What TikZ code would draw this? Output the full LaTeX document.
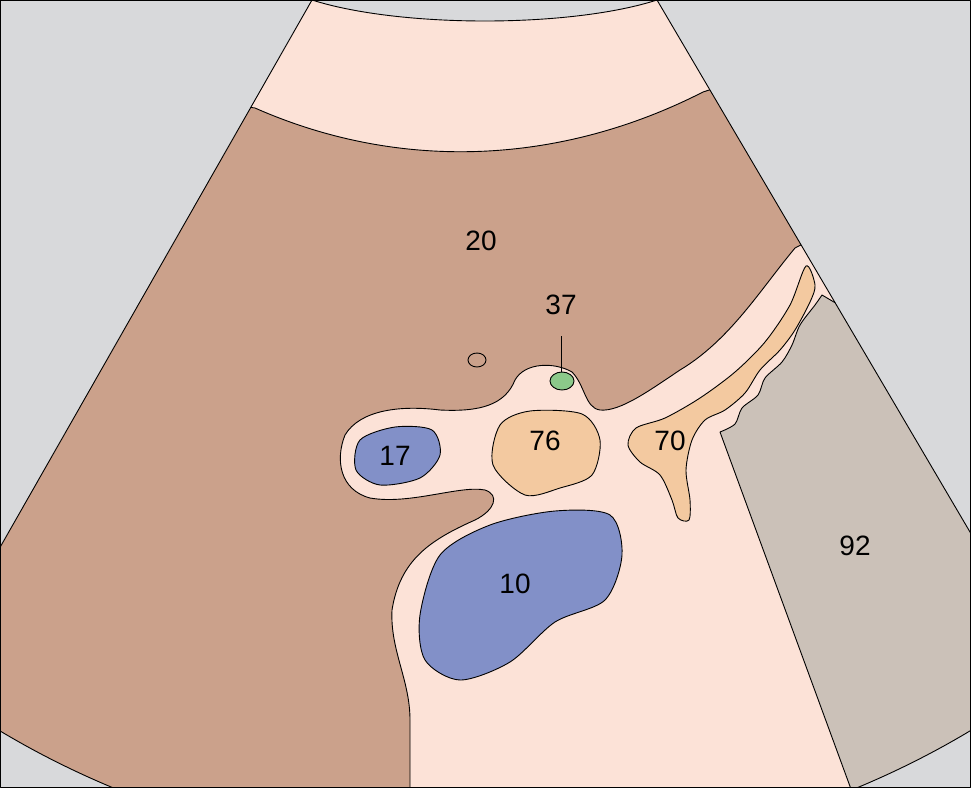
\documentclass[tikz,border=0pt]{standalone}
\usepackage{fontspec}
\setmainfont{Liberation Sans}
\definecolor{bg}{HTML}{D8D9DB}
\definecolor{pk}{HTML}{FCE2D7}
\definecolor{br}{HTML}{CBA18B}
\definecolor{or}{HTML}{F3C9A0}
\definecolor{bl}{HTML}{8290C8}
\definecolor{gr}{HTML}{8CC98A}
\definecolor{gy}{HTML}{CBC1B8}
\begin{document}
\begin{tikzpicture}[x=1pt,y=-1pt,line width=0.9pt,line join=round,
  lab/.style={font=\fontsize{28}{30}\selectfont,inner sep=0pt}]
\useasboundingbox (0,0) rectangle (971,788);
\fill[bg] (0,0) rectangle (971,788);
\def\fan{(312,0) .. controls (400,28) and (570,28) .. (657,0) -- (1000,583) -- (1000,712) .. controls (700,910) and (270,910) .. (-30,712) -- (-30,600) -- cycle}
\begin{scope}
\clip (1,1) rectangle (970,787);
\clip \fan;
\fill[pk] \fan;
% brown
\filldraw[fill=br,draw=black] (200,100) -- (255,108) .. controls (400,172) and (560,165) .. (703,92) -- (740,80) -- (830,230) -- (795,248) .. controls (760,290) and (730,340) .. (680,370) .. controls (650,390) and (620,412) .. (600,410) .. controls (585,408) and (585,385) .. (572,372) .. controls (555,362) and (525,362) .. (515,380) .. controls (505,405) and (480,412) .. (440,410) .. controls (400,405) and (360,410) .. (345,435) .. controls (335,460) and (340,490) .. (370,498) .. controls (410,505) and (460,485) .. (485,490) .. controls (500,495) and (495,510) .. (475,520) .. controls (430,540) and (400,560) .. (392,610) .. controls (390,650) and (410,680) .. (410,720) -- (410,800) -- (-10,800) -- (-10,100) -- cycle;
% gray
\filldraw[fill=gy,draw=black] (855,800) -- plot[smooth] coordinates {(720,432) (735,424) (742,408) (758,395) (765,378) (782,362) (792,345) (800,325) (815,305) (822,295)} -- (1000,400) -- (1000,800) -- cycle;
\end{scope}
% fan outline
\begin{scope}
\clip (1,1) rectangle (970,787);
\draw \fan;
\end{scope}
% orange 70
\filldraw[fill=or,draw=black] plot[smooth cycle] coordinates {(806,266) (815,285) (810,302) (795,330) (780,350) (760,370) (745,393) (725,410) (705,420) (692,440) (686,470) (690,500) (689,520) (678,518) (672,500) (660,475) (640,462) (628,445) (636,428) (665,418) (700,398) (735,372) (765,342) (790,305)};
% orange 76
\filldraw[fill=or,draw=black] plot[smooth cycle] coordinates {(500,425) (530,411) (582,414) (600,440) (592,475) (560,488) (525,495) (493,465)};
% blue 17
\filldraw[fill=bl,draw=black] plot[smooth cycle] coordinates {(360,440) (395,427) (432,430) (440,455) (420,478) (380,485) (356,470)};
% blue 10
\filldraw[fill=bl,draw=black] plot[smooth cycle] coordinates {(440,555) (490,525) (555,511) (610,515) (622,555) (605,600) (555,622) (510,662) (460,680) (425,660) (420,615)};
% small ones
\filldraw[fill=br,draw=black] (477,360) ellipse [x radius=9,y radius=7];
\filldraw[fill=gr,draw=black] (562,381) ellipse [x radius=12,y radius=9];
\node[lab] (l37) at (561,305) {37};
\coordinate (g37) at (561,372);
\draw (561,336) -- (g37);
\node[lab] (l20) at (481,241) {20};
\node[lab] (l17) at (395,456) {17};
\node[lab] (l76) at (545,441) {76};
\node[lab] (l70) at (670,441) {70};
\node[lab] (l10) at (515,584) {10};
\node[lab] (l92) at (855,546) {92};
\draw[line width=0.6pt] (0.5,0.5) rectangle (970.5,787.5);
\end{tikzpicture}
\end{document}
